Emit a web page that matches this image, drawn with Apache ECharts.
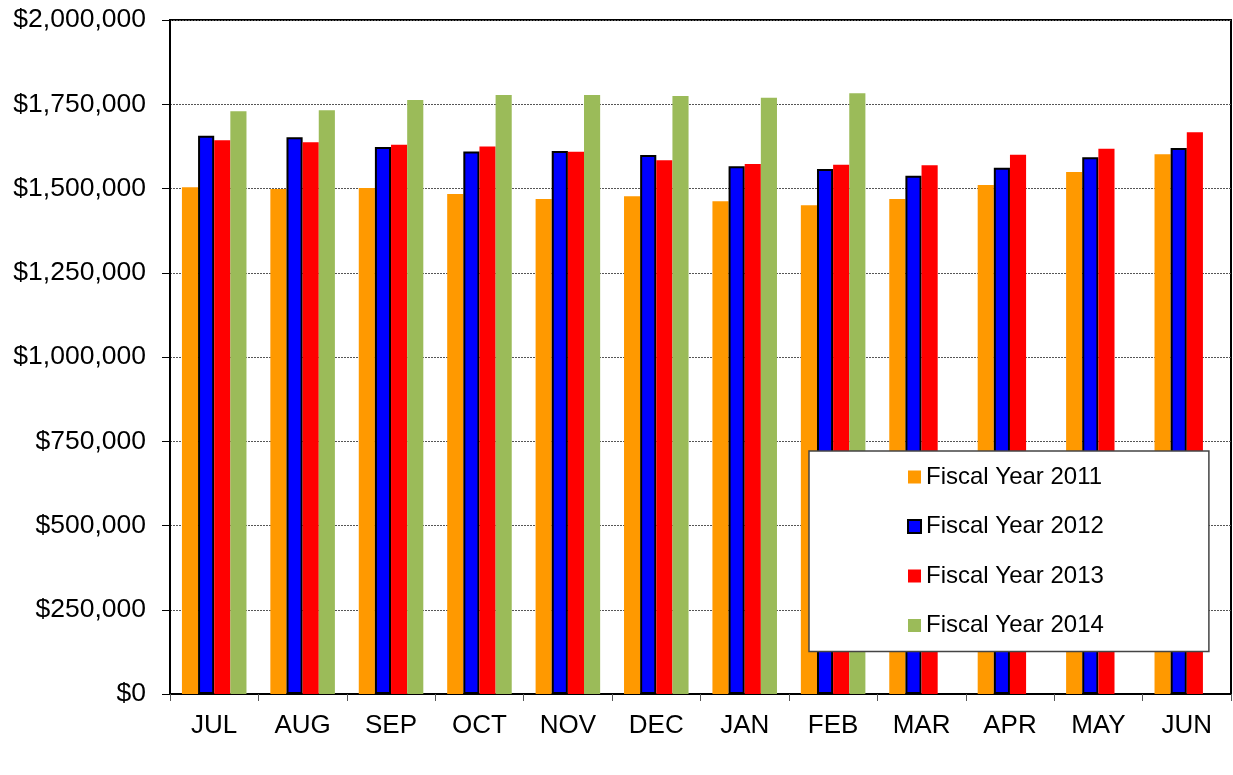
<!DOCTYPE html>
<html>
<head>
<meta charset="utf-8">
<script src="https://cdn.jsdelivr.net/npm/echarts@6/dist/echarts.min.js"></script>
<style>
html,body{margin:0;padding:0;background:#fff;}
#chart{width:1233px;height:775px;}
</style>
</head>
<body>
<div id="chart"></div>
<script>
var months = ['JUL','AUG','SEP','OCT','NOV','DEC','JAN','FEB','MAR','APR','MAY','JUN'];
var fy2011 = [1503500,1498500,1501500,1483700,1468800,1476700,1461900,1450000,1468800,1510400,1549000,1601400];
var fy2012 = [1656700,1652000,1623000,1610000,1611000,1599400,1565700,1557800,1538000,1561800,1592500,1620000];
var fy2013 = [1643000,1637000,1630000,1625000,1609000,1583500,1572700,1570700,1568700,1600300,1618200,1666700];
var fy2014 = [1729000,1732000,1762600,1777500,1777500,1774500,1769500,1782400,null,null,null,null];
var seriesNames = ['Fiscal Year 2011','Fiscal Year 2012','Fiscal Year 2013','Fiscal Year 2014'];
var yTicks = [0,250000,500000,750000,1000000,1250000,1500000,1750000,2000000];

var font = '"Liberation Sans", Arial, sans-serif';
function money(v){ return '$' + String(Math.round(v)).replace(/\B(?=(\d{3})+(?!\d))/g, ','); }

var chart = echarts.init(document.getElementById('chart'), null, {renderer:'canvas'});
chart.setOption({
  animation:false,
  backgroundColor:'#fff',
  grid:{left:170,right:2,top:20,bottom:81,show:true,borderColor:'#000',borderWidth:2,backgroundColor:'transparent'},
  legend:{
    orient:'vertical',
    left:809, top:451,
    padding:[13,105,13,98],
    backgroundColor:'#fff',
    borderColor:'#444',
    borderWidth:1.5,
    icon:'rect',
    itemWidth:13, itemHeight:13,
    itemGap:23.5,
    textStyle:{fontFamily:font,fontSize:24,color:'#000',lineHeight:26},
    data:seriesNames
  },
  xAxis:{
    type:'category',
    data:months,
    axisLine:{lineStyle:{color:'#000',width:2}},
    axisTick:{show:true,length:7,lineStyle:{color:'#555',width:1}},
    axisLabel:{fontFamily:font,fontSize:26,color:'#000',margin:19}
  },
  yAxis:{
    type:'value',
    min:yTicks[0], max:yTicks[yTicks.length-1], interval:yTicks[1]-yTicks[0],
    axisLine:{show:true,lineStyle:{color:'#000',width:2}},
    axisTick:{show:true,length:8,lineStyle:{color:'#000',width:1}},
    axisLabel:{fontFamily:font,fontSize:26.5,color:'#000',margin:24,formatter:money},
    splitLine:{show:true,lineStyle:{color:'#555',width:1,type:[2,1]}}
  },
  series:[
    {name:seriesNames[0],type:'bar',data:fy2011,barGap:'0%',barCategoryGap:'27%',itemStyle:{color:'#FF9900'}},
    {name:seriesNames[1],type:'bar',data:fy2012,itemStyle:{color:'#0000FF',borderColor:'#000',borderWidth:2}},
    {name:seriesNames[2],type:'bar',data:fy2013,itemStyle:{color:'#FF0000'}},
    {name:seriesNames[3],type:'bar',data:fy2014,itemStyle:{color:'#9BBB59'}}
  ]
});
</script>
</body>
</html>
